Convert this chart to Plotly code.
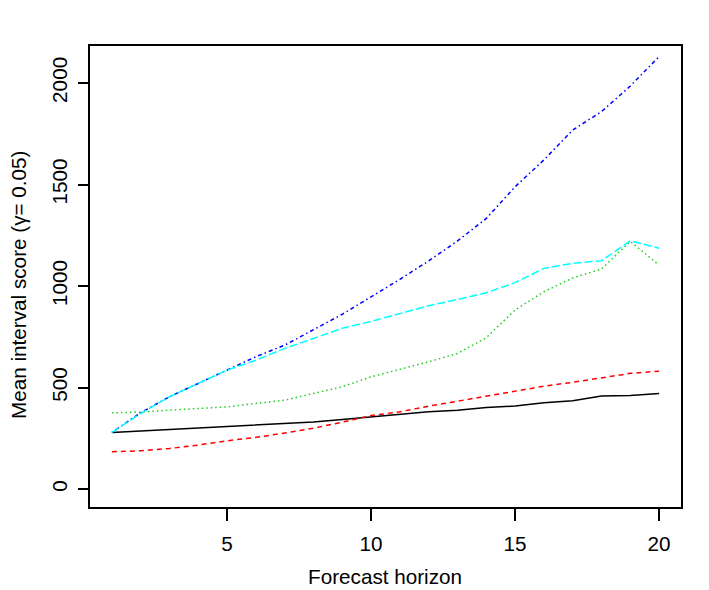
import plotly.graph_objects as go

horizon = list(range(1, 21))
black_vals = [279, 286, 293, 300, 307, 314, 321, 331, 343, 356, 369, 381, 389, 402, 409, 425, 435, 458, 461, 471]
red_vals = [184, 189, 200, 217, 238, 255, 276, 300, 330, 362, 381, 409, 433, 458, 481, 507, 526, 548, 570, 581]
green_vals = [376, 379, 389, 397, 405, 422, 438, 471, 504, 553, 590, 627, 668, 746, 882, 972, 1040, 1084, 1220, 1103]
cyan_vals = [279, 373, 455, 521, 586, 635, 693, 742, 792, 826, 863, 903, 934, 967, 1017, 1087, 1112, 1125, 1223, 1186]
blue_vals = [279, 376, 455, 521, 588, 652, 709, 783, 861, 947, 1033, 1124, 1222, 1333, 1489, 1621, 1768, 1859, 1985, 2130]

x_ticks = [5, 10, 15, 20]
y_ticks = [0, 500, 1000, 1500, 2000]

series = [
    (black_vals, "black", "solid"),
    (red_vals, "#FF0000", "5px,4px"),
    (green_vals, "#22CC22", "1.5px,3px"),
    (blue_vals, "#0000FF", "1.5px,3px,4px,3px"),
    (cyan_vals, "#00FFFF", "8px,3px"),
]

fig = go.Figure()
for vals, col, dash in series:
    fig.add_trace(go.Scatter(x=horizon, y=vals, mode="lines",
                             line=dict(color=col, width=1.5, dash=dash),
                             showlegend=False, hoverinfo="skip"))

FONT = "Liberation Sans, Arial, sans-serif"
FS = 20.7
L, R, T, B = 90, 28, 46, 83
W, H = 709, 590
pw = W - L - R
ph = H - T - B

fig.update_layout(
    width=W, height=H,
    margin=dict(l=L, r=R, t=T, b=B, pad=0),
    paper_bgcolor="white", plot_bgcolor="white",
    font=dict(family=FONT, size=FS, color="black"),
    xaxis=dict(range=[0.24, 20.76], tickvals=x_ticks, ticktext=[str(v) for v in x_ticks],
               showgrid=False, zeroline=False, showline=True, mirror=True,
               linecolor="black", linewidth=1.5, ticks="outside", ticklen=12,
               tickcolor="black", tickwidth=1.5, ticklabelstandoff=5),
    yaxis=dict(range=[-88, 2182], tickvals=y_ticks, ticktext=[str(v) for v in y_ticks],
               showgrid=False, zeroline=False, showline=True, mirror=True,
               linecolor="black", linewidth=1.5, ticks="outside", ticklen=10,
               tickcolor="black", tickwidth=1.5, tickangle=-90, ticklabelstandoff=3),
    annotations=[
        dict(text="Forecast horizon", xref="paper", yref="paper",
             x=(385 - L) / pw, y=-(576 - (T + ph)) / ph, showarrow=False,
             xanchor="center", yanchor="middle", font=dict(size=FS)),
        dict(text="Mean interval score (γ= 0.05)", xref="paper", yref="paper",
             x=(18 - L) / pw, y=1 - (285 - T) / ph, showarrow=False, textangle=-90,
             xanchor="center", yanchor="middle", font=dict(size=FS)),
    ],
)

fig.write_html("out.html")
